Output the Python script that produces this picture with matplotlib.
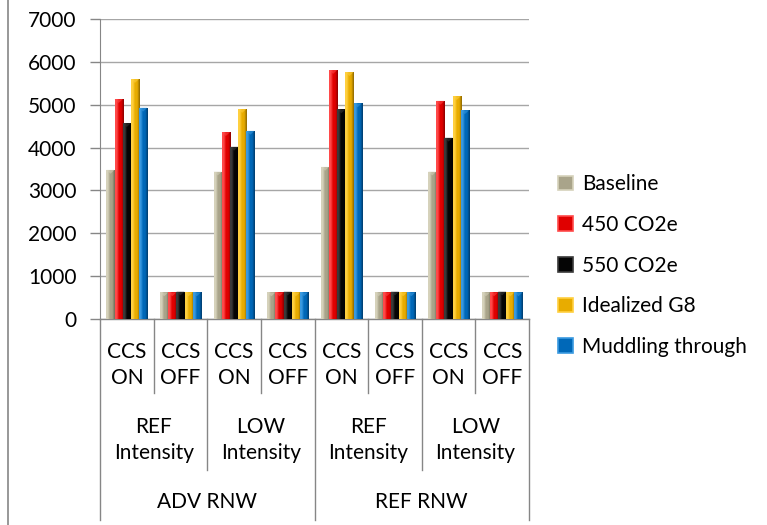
import numpy as np
import matplotlib
matplotlib.use("Agg")
import matplotlib.pyplot as plt
from matplotlib.colors import LinearSegmentedColormap
from matplotlib.patches import Patch
import matplotlib.transforms as mtransforms

# ---- data -------------------------------------------------------------
series = ["Baseline", "450 CO2e", "550 CO2e", "Idealized G8", "Muddling through"]
ccs_labels = ["CCS\nON", "CCS\nOFF"] * 4
intensity_labels = ["REF\nIntensity", "LOW\nIntensity", "REF\nIntensity", "LOW\nIntensity"]
rnw_labels = ["ADV RNW", "REF RNW"]

baseline = [3480, 620, 3440, 620, 3550, 620, 3440, 620]
co2_450 = [5130, 620, 4360, 620, 5810, 620, 5090, 620]
co2_550 = [4570, 640, 4020, 640, 4890, 640, 4230, 640]
idealized_g8 = [5600, 620, 4900, 620, 5760, 620, 5200, 620]
muddling = [4930, 620, 4390, 620, 5030, 620, 4870, 620]
values = [baseline, co2_450, co2_550, idealized_g8, muddling]

yticks = [0, 1000, 2000, 3000, 4000, 5000, 6000, 7000]

# bevelled colour ramps: highlight, main, shadow
ramps = [
    ("#d6d2bb", "#a9a48a", "#6f6b55"),
    ("#ff4a4a", "#e00000", "#8a0000"),
    ("#3a3a3a", "#050505", "#000000"),
    ("#ffd040", "#e8ac00", "#8c6600"),
    ("#3a9ae0", "#0068b8", "#003a6a"),
]

FS = 15
plt.rcParams["font.family"] = ["Lato", "DejaVu Sans"]
W, H = 767, 525
fig = plt.figure(figsize=(W / 100, H / 100), dpi=100)
ax = fig.add_axes([100 / W, 1 - 319 / H, 429 / W, 300 / H])

n_cat = len(baseline)
x = np.arange(n_cat)
bw = 0.152
grad = np.linspace(0, 1, 64).reshape(1, -1)
for i, (vals, ramp) in enumerate(zip(values, ramps)):
    cmap = LinearSegmentedColormap.from_list(
        f"bevel{i}", [(0.0, ramp[0]), (0.2, ramp[0]), (0.45, ramp[1]),
                      (0.7, ramp[1]), (1.0, ramp[2])])
    bars = ax.bar(x + (i - 2) * bw, vals, width=bw, color=ramp[1],
                  linewidth=0, zorder=2)
    for b in bars:
        x0, y0 = b.get_x(), b.get_y()
        w, h = b.get_width(), b.get_height()
        im = ax.imshow(grad, cmap=cmap, aspect="auto",
                       extent=(x0, x0 + w, y0, y0 + h), zorder=3,
                       interpolation="bilinear")
        im.set_clip_path(b)
        # top cap of the bevel
        cap = min(h, 90)
        ax.fill([x0, x0 + w, x0 + w * 0.5], [y0 + h, y0 + h, y0 + h - cap],
                color=ramp[0], alpha=0.55, lw=0, zorder=4)

ax.set_xlim(-0.5, n_cat - 0.5)
ax.set_ylim(0, 7000)
ax.set_yticks(yticks)
ax.set_yticklabels([str(v) for v in yticks], fontsize=FS)
ax.set_xticks([])
ax.grid(axis="y", color="#a6a6a6", linewidth=1.0, zorder=0)
ax.set_axisbelow(True)
for s in ["top", "right", "bottom"]:
    ax.spines[s].set_visible(False)
ax.spines["left"].set_color("#868686")
ax.tick_params(axis="y", length=7, width=1, color="#868686", pad=10,
               labelcolor="#000000")

# ---- hierarchical category axis -----------------------------------------
trans = mtransforms.blended_transform_factory(ax.transData, fig.transFigure)
def fy(py):
    return 1 - py / H

line_kw = dict(color="#868686", lw=1.0, transform=trans, clip_on=False)
ax.plot([-0.5, n_cat - 0.5], [fy(319), fy(319)], **line_kw)
for k in range(n_cat + 1):
    xb = k - 0.5
    if k % 4 == 0:
        bottom = 520
    elif k % 2 == 0:
        bottom = 470
    else:
        bottom = 393
    ax.plot([xb, xb], [fy(319), fy(bottom)], **line_kw)

txt_kw = dict(transform=trans, ha="center", va="center", fontsize=FS,
              linespacing=1.35, clip_on=False)
for k, lab in enumerate(ccs_labels):
    ax.text(k, fy(365), lab, **txt_kw)
for k, lab in enumerate(intensity_labels):
    ax.text(2 * k + 0.5, fy(440), lab, **txt_kw)
for k, lab in enumerate(rnw_labels):
    ax.text(4 * k + 1.5, fy(502), lab, **txt_kw)

# ---- legend -------------------------------------------------------------
handles = [Patch(facecolor=r[1], edgecolor=r[0], linewidth=1.2) for r in ramps]
fig.legend(handles, series, loc="upper left",
           bbox_to_anchor=(550 / W, 1 - 166 / H), frameon=False,
           fontsize=FS, handlelength=0.7, handleheight=0.7,
           handletextpad=0.45, labelspacing=0.99, borderaxespad=0)

# chart frame on the left
fig.add_artist(plt.Line2D([8 / W, 8 / W], [0, 1], color="#868686", lw=1.2,
                          transform=fig.transFigure))

fig.savefig("out.png", dpi=100)
